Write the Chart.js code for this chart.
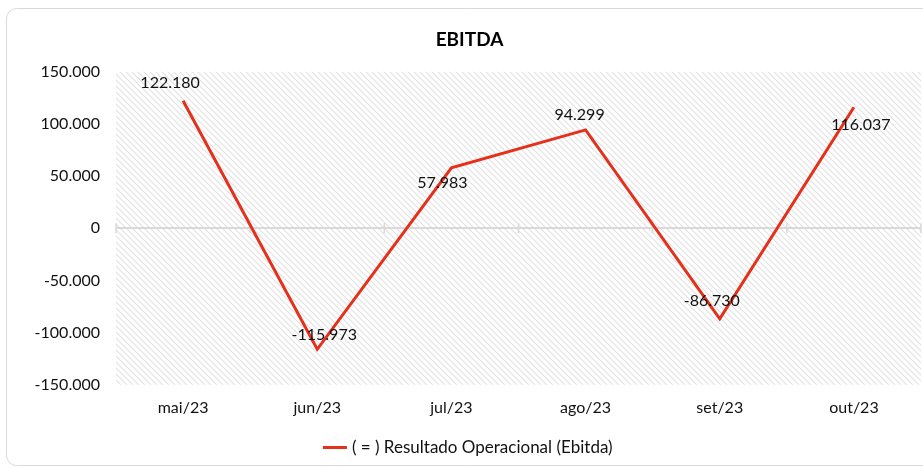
<!DOCTYPE html>
<html>
<head>
<meta charset="utf-8">
<script src="https://cdn.jsdelivr.net/npm/chart.js@4/dist/chart.umd.min.js"></script>
<style>
  html, body { margin: 0; padding: 0; background: #fff; }
  canvas { display: block; }
</style>
</head>
<body>
<canvas id="chrEbitda" width="923" height="468"></canvas>
<script>
// data
const months = ["mai/23", "jun/23", "jul/23", "ago/23", "set/23", "out/23"];
const ebitda = [122180, -115973, 57983, 94299, -86730, 116037];
const yTicks = [-150000, -100000, -50000, 0, 50000, 100000, 150000];
const seriesName = "( = ) Resultado Operacional (Ebitda)";
// where each value label sits relative to its point (dx, dy)
const labelShift = [[-13, -18], [7, -14], [-9, 15], [-6, -15], [-8, -18], [7, 18]];

const FONT = "Lato, 'Open Sans', sans-serif";
const RED = "#e5301b";

fmt = (v) => {
  const s = Math.abs(v).toString().replace(/\B(?=(\d{3})+(?!\d))/g, ".");
  return (v < 0 ? "-" : "") + s;
};

makeHatch = () => {
  const c = document.createElement("canvas");
  c.width = 6; c.height = 6;
  const g = c.getContext("2d");
  g.strokeStyle = "#e2e2e2";
  g.lineWidth = 1.2;
  g.beginPath();
  g.moveTo(-1, -1); g.lineTo(7, 7);
  g.moveTo(-1, 5); g.lineTo(1, 7);
  g.moveTo(5, -1); g.lineTo(7, 1);
  g.stroke();
  return g.createPattern(c, "repeat");
};

const frameAndHatch = {
  id: "frameAndHatch",
  beforeDraw(chart) {
    const ctx = chart.ctx, a = chart.chartArea;
    ctx.save();
    // outer frame
    ctx.strokeStyle = "#d9d9d9";
    ctx.lineWidth = 1;
    ctx.beginPath();
    ctx.roundRect(6.5, 8.5, 940, 457, 10);
    ctx.stroke();
    // hatched plot area
    ctx.fillStyle = makeHatch();
    ctx.fillRect(a.left, a.top, a.right - a.left, a.bottom - a.top);
    ctx.restore();
  }
};

const zeroTicks = {
  id: "zeroTicks",
  beforeDatasetsDraw(chart) {
    const ctx = chart.ctx, x = chart.scales.x, y = chart.scales.y;
    const y0 = y.getPixelForValue(0);
    ctx.save();
    ctx.strokeStyle = "#d9d9d9";
    ctx.lineWidth = 1.5;
    for (let i = 0; i <= months.length; i++) {
      const px = x.getPixelForValue(i - 0.5);
      ctx.beginPath();
      ctx.moveTo(px, y0 - 5);
      ctx.lineTo(px, y0 + 5);
      ctx.stroke();
    }
    ctx.restore();
  }
};

const valueLabels = {
  id: "valueLabels",
  afterDatasetsDraw(chart) {
    const ctx = chart.ctx;
    const meta = chart.getDatasetMeta(0);
    ctx.save();
    ctx.font = "16px " + FONT;
    ctx.fillStyle = "#111";
    ctx.textAlign = "center";
    ctx.textBaseline = "middle";
    meta.data.forEach((pt, i) => {
      ctx.fillText(fmt(ebitda[i]), pt.x + labelShift[i][0], pt.y + labelShift[i][1]);
    });
    ctx.restore();
  }
};

const chrEbitda = new Chart(document.getElementById("chrEbitda").getContext("2d"), {
  type: "line",
  data: {
    labels: months,
    datasets: [{
      label: seriesName,
      data: ebitda,
      borderColor: RED,
      backgroundColor: RED,
      borderWidth: 3,
      pointRadius: 0,
      tension: 0,
      fill: false
    }]
  },
  options: {
    responsive: false,
    animation: false,
    layout: { padding: { left: 18, right: 2, top: 0, bottom: 2 } },
    scales: {
      x: {
        offset: true,
        grid: { display: false },
        border: { display: false },
        ticks: { color: "#111", font: { family: FONT, size: 16 }, padding: 5 }
      },
      y: {
        min: -150000,
        max: 150000,
        afterBuildTicks: (s) => { s.ticks = yTicks.map(v => ({ value: v })); },
        afterFit: (s) => { s.width = 98; },
        border: { display: false },
        grid: {
          drawTicks: false,
          color: (c) => c.tick && c.tick.value === 0 ? "#d9d9d9" : "rgba(0,0,0,0)",
          lineWidth: 2
        },
        ticks: {
          color: "#111",
          font: { family: FONT, size: 16 },
          padding: 16,
          callback: (v) => fmt(v)
        }
      }
    },
    plugins: {
      title: {
        display: true,
        text: "EBITDA",
        color: "#000",
        font: { family: FONT, size: 19, weight: "bold" },
        padding: { top: 28, bottom: 21 }
      },
      legend: {
        position: "bottom",
        labels: {
          color: "#111",
          font: { family: FONT, size: 17 },
          usePointStyle: true,
          pointStyle: "line",
          boxWidth: 34,
          padding: 17
        }
      },
      tooltip: { enabled: false }
    }
  },
  plugins: [frameAndHatch, zeroTicks, valueLabels]
});
</script>
</body>
</html>
